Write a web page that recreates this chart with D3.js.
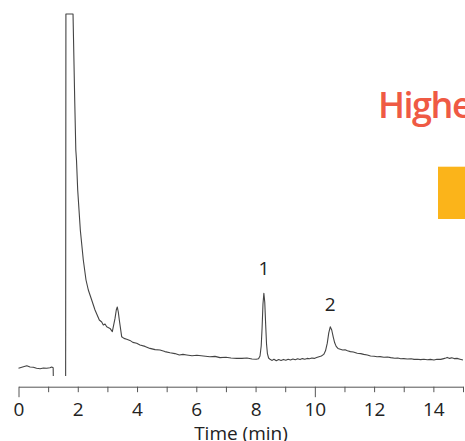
<!DOCTYPE html>
<html>
<head>
<meta charset="utf-8">
<script src="https://cdn.jsdelivr.net/npm/d3@7"></script>
<style>
  body { margin: 0; background: #fff; }
  svg { display: block; font-family: "Open Sans", sans-serif; }
</style>
</head>
<body>
<div id="chart"></div>
<script>
// Chromatogram trace: [time (min), signal]
const trace = [
  [0.00, -2.08], [0.11, -1.83], [0.28, -1.42], [0.39, -1.75], [0.50, -1.83], [0.61, -2.08],
  [0.73, -2.17], [0.84, -2.00], [0.95, -2.08], [1.06, -1.92], [1.12, -1.75], [1.17, -1.92],
  [1.19, -12], [1.59, -12],
  // solvent front, saturated at the top
  [1.60, 86.5], [1.84, 86.5],
  [1.897, 65], [1.934, 52.5], [1.957, 50], [1.998, 42.5], [2.086, 32.5], [2.187, 25],
  [2.278, 20], [2.356, 17.5], [2.47, 15], [2.582, 12.5], [2.727, 10], [2.808, 9.5],
  [2.862, 8.75], [2.92, 9.0], [2.977, 8.3], [3.088, 7.9], [3.166, 7.1],
  [3.257, 10.4], [3.30, 12.5], [3.334, 13.25], [3.368, 12], [3.402, 10], [3.483, 5.8],
  [3.56, 5.4], [3.652, 5.2], [3.76, 4.9], [3.86, 4.4], [3.989, 4.2], [4.10, 3.75],
  [4.27, 3.4], [4.437, 2.9], [4.61, 2.6], [4.775, 2.5], [4.94, 2.1], [5.113, 1.8],
  [5.28, 1.6], [5.427, 1.25], [5.55, 1.4], [5.677, 1.25], [5.855, 1.05], [6.02, 1.2],
  [6.237, 1.0], [6.46, 0.8], [6.63, 0.9], [6.80, 0.6], [7.00, 0.7], [7.17, 0.5],
  [7.364, 0.4], [7.54, 0.4], [7.71, 0.5], [7.88, 0.25], [8.02, 0.2],
  // peak 1
  [8.10, 0.3], [8.15, 1.0], [8.19, 3.5], [8.22, 8], [8.25, 14], [8.28, 16.7], [8.31, 14.5],
  [8.34, 9], [8.37, 4], [8.40, 1.6], [8.44, 0.5], [8.50, 0.1],
  [8.56, -0.1], [8.62, 0.2], [8.70, -0.2], [8.78, 0.1], [8.86, -0.1], [8.94, 0.15],
  [9.02, -0.05], [9.10, 0.2], [9.18, 0.0], [9.26, 0.25], [9.34, 0.05], [9.42, 0.3],
  [9.50, 0.1], [9.58, 0.35], [9.66, 0.2], [9.74, 0.4], [9.82, 0.3], [9.90, 0.5],
  [9.98, 0.4], [10.06, 0.6], [10.14, 0.8], [10.22, 1.0], [10.30, 1.4],
  // peak 2
  [10.36, 2.3], [10.42, 4.2], [10.47, 6.8], [10.52, 8.3], [10.57, 7.5], [10.62, 5.8],
  [10.67, 4.3], [10.72, 3.4], [10.78, 2.9], [10.86, 2.7], [10.94, 2.5], [11.02, 2.55],
  [11.10, 2.3], [11.20, 2.1], [11.30, 2.0], [11.43, 1.7], [11.55, 1.6], [11.65, 1.4],
  [11.77, 1.25], [11.88, 1.0], [12.00, 0.95], [12.10, 0.8], [12.20, 0.85], [12.33, 0.7],
  [12.45, 0.75], [12.56, 0.6], [12.70, 0.45], [12.80, 0.5], [12.90, 0.3], [13.00, 0.35],
  [13.12, 0.25], [13.25, 0.3], [13.35, 0.15], [13.46, 0.2], [13.57, 0.1], [13.68, 0.2],
  [13.80, 0.05], [13.90, 0.15], [14.02, 0.0], [14.12, 0.2], [14.25, 0.15], [14.35, 0.35],
  [14.42, 0.5], [14.47, 0.65], [14.55, 0.4], [14.62, 0.55], [14.70, 0.35], [14.80, 0.4],
  [14.90, 0.2], [15.00, 0.0]
];

const peakNames = ["1", "2"];
const peakTimes = [8.28, 10.52];
const peakHeights = [16.7, 8.3];

const xTicks = d3.range(0, 16, 1);       // 0..15
const xLabels = [0, 2, 4, 6, 8, 10, 12, 14];
const longTicks = [0, 10];
const xTitle = "Time (min)";
const headline = "Higher";

const W = 465, H = 441;

const svg = d3.select("#chart").append("svg")
  .attr("width", W)
  .attr("height", H);

// Scales
const x = d3.scaleLinear().domain([0, 15]).range([18.5, 463]);
const y = d3.scaleLinear().domain([-4, 86.5]).range([376, 14]);

// Clip for the trace
svg.append("clipPath").attr("id", "plot-clip")
  .append("rect")
  .attr("x", 0).attr("y", 13)
  .attr("width", W).attr("height", 376 - 13);

const line = d3.line()
  .x(d => x(d[0]))
  .y(d => y(d[1]));

svg.append("path")
  .datum(trace)
  .attr("clip-path", "url(#plot-clip)")
  .attr("d", line)
  .attr("fill", "none")
  .attr("stroke", "#444")
  .attr("stroke-width", 1.1)
  .attr("stroke-linejoin", "round");

// Peak numbers, a little above each apex
const labelGap = [18.5, 15.5];
svg.selectAll(".peak-label")
  .data(peakNames)
  .enter().append("text")
  .attr("class", "peak-label")
  .attr("x", (d, i) => x(peakTimes[i]))
  .attr("y", (d, i) => y(peakHeights[i]) - labelGap[i])
  .attr("text-anchor", "middle")
  .attr("font-size", 19)
  .attr("fill", "#222")
  .text(d => d);

// X axis
const axisY = 386.7;
const xAxis = svg.append("g")
  .attr("transform", `translate(0,${axisY})`)
  .call(d3.axisBottom(x)
    .tickValues(xTicks)
    .tickSize(5.5)
    .tickSizeOuter(0)
    .tickFormat(d => xLabels.includes(d) ? d : ""));

xAxis.select(".domain").attr("stroke", "#555").attr("stroke-width", 1);
xAxis.selectAll(".tick line")
  .attr("stroke", "#555")
  .attr("y2", d => longTicks.includes(d) ? 10.5 : 5.5);
xAxis.selectAll(".tick text")
  .attr("y", 16)
  .attr("font-size", 19)
  .attr("font-family", "'Open Sans', sans-serif")
  .attr("fill", "#222");

svg.append("text")
  .attr("x", 241)
  .attr("y", 440)
  .attr("text-anchor", "middle")
  .attr("font-size", 19)
  .attr("fill", "#222")
  .text(xTitle);

// Cropped headline and colour block on the right
svg.append("text")
  .attr("x", 378)
  .attr("y", 118)
  .attr("font-size", 36)
  .attr("font-weight", 600)
  .attr("letter-spacing", -1.5)
  .attr("fill", "#EF5A44")
  .text(headline);

svg.append("rect")
  .attr("x", 438)
  .attr("y", 166.7)
  .attr("width", W - 438)
  .attr("height", 219 - 166.7)
  .attr("fill", "#FBB41A");
</script>
</body>
</html>
